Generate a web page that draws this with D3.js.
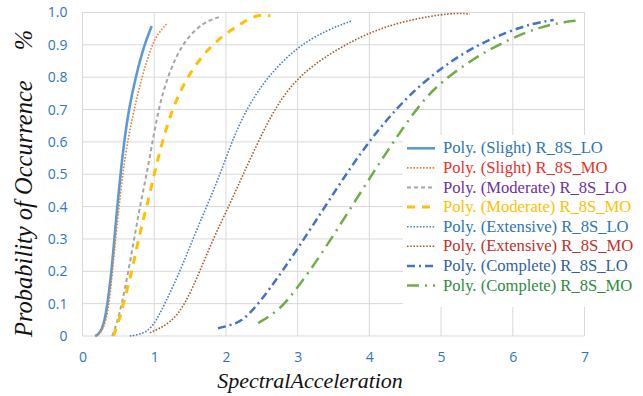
<!DOCTYPE html>
<html>
<head>
<meta charset="utf-8">
<script src="https://cdn.jsdelivr.net/npm/d3@7"></script>
<style>
  body { margin: 0; background: #fff; }
  #chart { width: 643px; height: 396px; }
</style>
</head>
<body>
<div id="chart"></div>
<script>
// values: [spectral acceleration, probability]
const slightLO = [[0.175,0],[0.22,0.005],[0.27,0.02],[0.31,0.05],[0.35,0.1],[0.405,0.2],[0.445,0.3],[0.485,0.4],[0.53,0.5],[0.58,0.6],[0.645,0.7],[0.74,0.8],[0.86,0.9],[0.965,0.958]];
const slightMO = [[0.18,0],[0.23,0.005],[0.28,0.02],[0.33,0.05],[0.37,0.1],[0.42,0.2],[0.46,0.3],[0.51,0.4],[0.56,0.5],[0.625,0.6],[0.72,0.7],[0.826,0.8],[0.965,0.9],[1.07,0.94],[1.17,0.964]];
const moderateLO = [[0.415,0],[0.48,0.04],[0.55,0.1],[0.64,0.2],[0.72,0.3],[0.8,0.4],[0.895,0.5],[0.975,0.6],[1.06,0.7],[1.18,0.8],[1.38,0.9],[1.59,0.951],[1.75,0.975],[1.92,0.987]];
const moderateMO = [[0.43,0],[0.5,0.04],[0.57,0.1],[0.69,0.2],[0.78,0.3],[0.895,0.4],[1.0,0.5],[1.11,0.6],[1.25,0.7],[1.45,0.8],[1.78,0.9],[2.17,0.961],[2.43,0.995],[2.62,0.99]];
const extensiveLO = [[0.66,0],[0.8,0.005],[0.965,0.02],[1.15,0.1],[1.36,0.2],[1.54,0.3],[1.73,0.4],[1.92,0.5],[2.08,0.6],[2.28,0.7],[2.57,0.8],[2.99,0.894],[3.41,0.946],[3.75,0.974]];
const extensiveMO = [[0.94,0.01],[1.24,0.04],[1.43,0.1],[1.58,0.17],[1.82,0.3],[2.06,0.41],[2.24,0.5],[2.45,0.6],[2.67,0.7],[2.99,0.8],[3.45,0.874],[3.96,0.936],[4.52,0.977],[5.17,1.0],[5.4,0.995]];
const completeLO = [[1.89,0.024],[2.1,0.035],[2.29,0.055],[2.62,0.147],[2.99,0.266],[3.44,0.42],[3.96,0.596],[4.52,0.74],[4.99,0.827],[5.45,0.894],[5.92,0.94],[6.29,0.967],[6.57,0.977]];
const completeMO = [[2.45,0.04],[2.75,0.08],[2.99,0.147],[3.31,0.245],[3.81,0.42],[4.27,0.58],[4.71,0.72],[5.0,0.785],[5.45,0.858],[5.92,0.915],[6.38,0.956],[6.75,0.972],[6.91,0.975]];

const seriesNames = [
  "Poly. (Slight) R_8S_LO", "Poly. (Slight) R_8S_MO",
  "Poly. (Moderate) R_8S_LO", "Poly. (Moderate) R_8S_MO",
  "Poly. (Extensive) R_8S_LO", "Poly. (Extensive) R_8S_MO",
  "Poly. (Complete) R_8S_LO", "Poly. (Complete) R_8S_MO"
];
const seriesValues = [slightLO, slightMO, moderateLO, moderateMO, extensiveLO, extensiveMO, completeLO, completeMO];
const xTicks = [0, 1, 2, 3, 4, 5, 6, 7];
const yTicks = [0, 0.1, 0.2, 0.3, 0.4, 0.5, 0.6, 0.7, 0.8, 0.9, 1.0];

// line styles per series (same order as names)
const lineStyles = [
  { color: "#5B9BD5", width: 2.6, dash: null },
  { color: "#ED7D31", width: 1.6, dash: "1.6,1.6" },
  { color: "#A5A5A5", width: 2, dash: "4,3" },
  { color: "#FFC000", width: 3, dash: "8,7" },
  { color: "#4F7FBF", width: 1.6, dash: "1.6,1.6" },
  { color: "#A65E2E", width: 1.6, dash: "1.6,1.6" },
  { color: "#4472C4", width: 2.5, dash: "8,4,2,4" },
  { color: "#70AD47", width: 2.5, dash: "12,6,2,6" }
];
const textColors = ["#2E75B6", "#E8302A", "#7030A0", "#FFC000", "#2E75B6", "#C0302A", "#2F5FA8", "#2E8B3E"];

const W = 643, H = 396;
const plot = { left: 82.5, right: 584.5, top: 12.5, bottom: 336 };

const svg = d3.select("#chart").append("svg")
  .attr("width", W).attr("height", H);

const x = d3.scaleLinear().domain([0, 7]).range([plot.left, plot.right]);
const y = d3.scaleLinear().domain([0, 1]).range([plot.bottom, plot.top]);

// grid
svg.append("g").selectAll("line").data(yTicks).enter().append("line")
  .attr("x1", plot.left).attr("x2", plot.right)
  .attr("y1", d => y(d)).attr("y2", d => y(d))
  .attr("stroke", "#D9D9D9").attr("stroke-width", 1);
svg.append("g").selectAll("line").data(xTicks).enter().append("line")
  .attr("y1", plot.top).attr("y2", plot.bottom)
  .attr("x1", d => x(d)).attr("x2", d => x(d))
  .attr("stroke", "#D9D9D9").attr("stroke-width", 1);

// axes (labels only, Excel style)
const tickColor = "#2E75C6";
const yAxis = svg.append("g")
  .attr("transform", `translate(${plot.left},0)`)
  .call(d3.axisLeft(y).tickValues(yTicks).tickSize(0).tickPadding(15)
    .tickFormat(d => d === 0 ? "0" : d3.format(".1f")(d)));
yAxis.select(".domain").remove();
yAxis.selectAll("text").attr("fill", tickColor)
  .style("font-family", "'Open Sans', sans-serif").style("font-size", "14px");

const xAxis = svg.append("g")
  .attr("transform", `translate(0,${plot.bottom})`)
  .call(d3.axisBottom(x).tickValues(xTicks).tickSize(0).tickPadding(16).tickFormat(d3.format("d")));
xAxis.select(".domain").remove();
xAxis.selectAll("text").attr("fill", tickColor)
  .style("font-family", "'Open Sans', sans-serif").style("font-size", "14px");

// curves
const line = d3.line()
  .x(d => x(d[0]))
  .y(d => y(d[1]))
  .curve(d3.curveBasis);

seriesValues.forEach((vals, i) => {
  const st = lineStyles[i];
  svg.append("path")
    .datum(vals)
    .attr("d", line)
    .attr("fill", "none")
    .attr("stroke", st.color)
    .attr("stroke-width", st.width)
    .attr("stroke-dasharray", st.dash);
});

// legend
const legend = svg.append("g");
legend.append("rect")
  .attr("x", 403).attr("y", 135).attr("width", 240).attr("height", 172)
  .attr("fill", "#fff");

seriesNames.forEach((name, i) => {
  const cy = 148.3 + i * 19.6;
  const st = lineStyles[i];
  legend.append("line")
    .attr("x1", 407).attr("x2", 435)
    .attr("y1", cy).attr("y2", cy)
    .attr("stroke", st.color)
    .attr("stroke-width", st.width)
    .attr("stroke-dasharray", st.dash);
  legend.append("text")
    .attr("x", 443).attr("y", cy + 5)
    .attr("fill", textColors[i])
    .style("font-family", "'Liberation Serif', serif")
    .style("font-size", "16.6px")
    .text(name);
});

// axis titles
svg.append("text")
  .attr("x", 310).attr("y", 388)
  .attr("text-anchor", "middle")
  .style("font-family", "'Liberation Serif', serif")
  .style("font-style", "italic")
  .style("font-size", "22px")
  .attr("fill", "#111")
  .text("SpectralAcceleration");

const yTitle = svg.append("text")
  .attr("transform", "translate(32,337) rotate(-90)")
  .attr("text-anchor", "start")
  .style("font-family", "'Liberation Serif', serif")
  .style("font-style", "italic")
  .style("font-size", "24.5px")
  .attr("fill", "#111");
yTitle.append("tspan").text("Probability of Occurrence");
yTitle.append("tspan").attr("dx", 30).text("%");
</script>
</body>
</html>
